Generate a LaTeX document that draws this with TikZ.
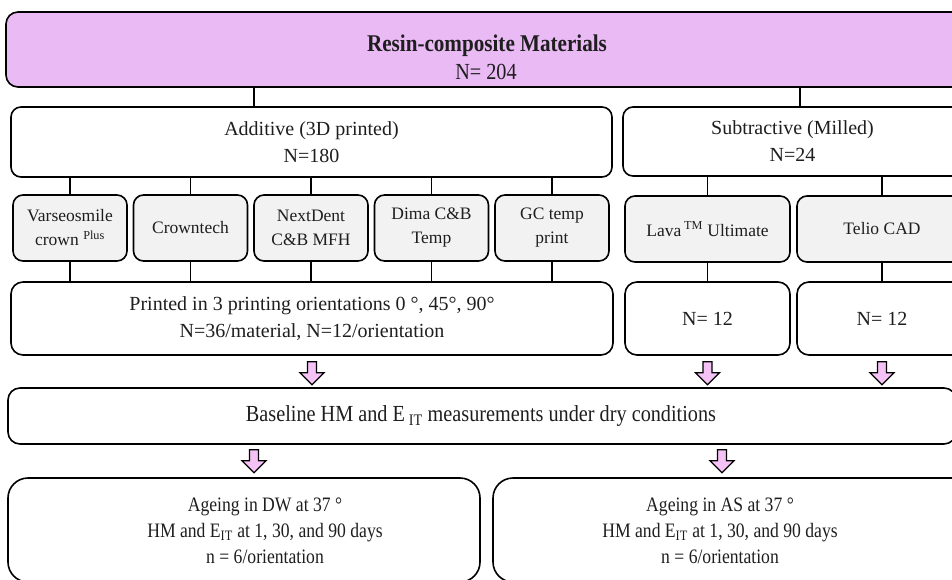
\documentclass[tikz,border=0pt]{standalone}
\usepackage{fontspec}
\setmainfont{Liberation Serif}
\newfontfamily\condfont[FakeStretch=0.86]{Liberation Serif}
\newfontfamily\widecond[FakeStretch=0.88]{Liberation Serif}
\usetikzlibrary{calc}
\definecolor{toppurple}{RGB}{234,186,244}
\definecolor{boxgrey}{RGB}{242,242,242}
\definecolor{arrowpink}{RGB}{244,194,244}
\definecolor{txt}{RGB}{30,30,30}
\begin{document}
\begin{tikzpicture}[x=1pt,y=-1pt,
  box/.style={draw=black, line width=1.6pt, rounded corners=10pt, inner sep=0pt, align=center, text=txt,
    font=\fontsize{20}{27}\selectfont},
  subbox/.style={box, fill=boxgrey, font=\fontsize{17.5}{24}\selectfont},
  bigbox/.style={box, rounded corners=20pt},
  lbl/.style={inner sep=0pt, align=center, text=txt},
  conn/.style={line width=1.4pt},
  pics/blockarrow/.style={code={
    \draw[fill=arrowpink, line width=1.3pt, line join=miter]
      (-4.5,0) -- (4.5,0) -- (4.5,11) -- (12,11) -- (0,23) -- (-12,11) -- (-4.5,11) -- cycle;}}]
\useasboundingbox (0,0) rectangle (952,579);

% top
\node[box, fill=toppurple, rounded corners=12pt, minimum width=960pt, minimum height=75pt] (top) at (486,49.5) {};
\node[lbl, font=\widecond\bfseries\fontsize{24}{26}\selectfont] (toptitle) at (487,46) {Resin-composite Materials};
\node[lbl, font=\widecond\fontsize{23}{26}\selectfont] (topn) at (486,72) {N= 204};

% second level
\node[box, minimum width=601pt, minimum height=70pt] (add) at (311.5,142) {Additive (3D printed)\\N=180};
\node[box, minimum width=339pt, minimum height=69pt] (sub) at (792.5,141.5) {Subtractive (Milled)\\N=24};

% children
\node[subbox, minimum width=114pt, minimum height=66pt] (c1) at (70,228) {Varseosmile\\crown \textsuperscript{Plus}};
\node[subbox, minimum width=114pt, minimum height=66pt] (c2) at (190.5,228) {Crowntech};
\node[subbox, minimum width=114pt, minimum height=66pt] (c3) at (311,228) {NextDent\\C\&B MFH};
\node[subbox, minimum width=114pt, minimum height=66pt] (c4) at (431.5,228) {Dima C\&B\\Temp};
\node[subbox, minimum width=114pt, minimum height=66pt] (c5) at (552,228) {GC temp\\print};
\node[subbox, minimum width=165pt, minimum height=66pt] (lava) at (707.5,229) {Lava\,\textsuperscript{TM} Ultimate};
\node[subbox, minimum width=170pt, minimum height=66pt] (telio) at (882,229) {Telio CAD};

% third level
\node[box, rounded corners=12pt, minimum width=602pt, minimum height=73pt] (print) at (312,318.5) {Printed in 3 printing orientations 0 °, 45°, 90°\\N=36/material, N=12/orientation};
\node[box, rounded corners=12pt, minimum width=165pt, minimum height=73pt] (na) at (707.5,318.5) {N= 12};
\node[box, rounded corners=12pt, minimum width=170pt, minimum height=73pt] (nb) at (882,318.5) {N= 12};

% baseline
\node[box, rounded corners=12pt, minimum width=948pt, minimum height=56pt] (base) at (482,416) {};
\node[lbl, font=\widecond\fontsize{23}{26}\selectfont] (basetxt) at (481,416) {Baseline HM and E\,\textsubscript{IT} measurements under dry conditions};

% bottom
\node[bigbox, minimum width=472pt, minimum height=104pt] (dw) at (244,530) {};
\node[bigbox, minimum width=482pt, minimum height=104pt] (as) at (734,530) {};
\node[lbl, font=\fontsize{20.5}{26}\selectfont\condfont] (dwtxt) at (265,531) {Ageing in DW at 37 °\\HM and E\textsubscript{IT} at 1, 30, and 90 days\\n = 6/orientation};
\node[lbl, font=\fontsize{20.5}{26}\selectfont\condfont] (astxt) at (720,531) {Ageing in AS at 37 °\\HM and E\textsubscript{IT} at 1, 30, and 90 days\\n = 6/orientation};

% connectors
\draw[conn] (254,0 |- top.south) -- (254,0 |- add.north);
\draw[conn] (800,0 |- top.south) -- (800,0 |- sub.north);
\foreach \c in {c1,c2,c3,c4,c5}{
  \draw[conn] (\c.north) -- (\c.north |- add.south);
  \draw[conn] (\c.south) -- (\c.south |- print.north);
}
\draw[conn] (lava.north) -- (lava.north |- sub.south);
\draw[conn] (telio.north) -- (telio.north |- sub.south);
\draw[conn] (lava.south) -- (na.north);
\draw[conn] (telio.south) -- (nb.north);

% block arrows
\pic at ($(print.south)+(0,6)$) {blockarrow};
\pic at ($(na.south)+(0,6)$) {blockarrow};
\pic at ($(nb.south)+(0,6)$) {blockarrow};
\pic at ($(254,0 |- base.south)+(0,5)$) {blockarrow};
\pic at ($(722,0 |- base.south)+(0,5)$) {blockarrow};
\end{tikzpicture}
\end{document}
